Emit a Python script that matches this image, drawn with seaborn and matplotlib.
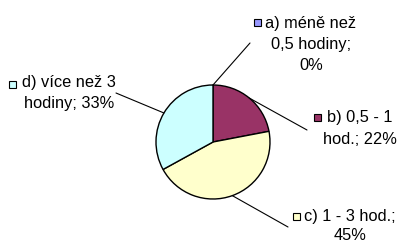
import matplotlib
matplotlib.use("Agg")
import matplotlib.pyplot as plt
from matplotlib.patches import Rectangle
import numpy as np
import seaborn as sns

# data
categories = ["a) méně než 0,5 hodiny", "b) 0,5 - 1 hod.", "c) 1 - 3 hod.", "d) více než 3 hodiny"]
percent = [0, 22, 45, 33]
label_lines = [
    ["a) méně než", "0,5 hodiny;", "0%"],
    ["b) 0,5 - 1", "hod.; 22%"],
    ["c) 1 - 3 hod.;", "45%"],
    ["d) více než 3", "hodiny; 33%"],
]
colors = ["#9999FF", "#993366", "#FFFFCC", "#CCFFFF"]

sns.set_style("white")
plt.rcParams['font.family'] = ['Liberation Sans', 'DejaVu Sans']

W, H = 401, 244
fig = plt.figure(figsize=(W / 100, H / 100), dpi=100)
fig.patch.set_facecolor("white")

# pie centre (213, 142) px from top-left, radius 57 px
cx, cy, r = 213, 142, 57
ax = fig.add_axes([(cx - r) / W, (H - cy - r) / H, 2 * r / W, 2 * r / H])
wedges, _ = ax.pie(percent, colors=colors, startangle=90, counterclock=False,
                   wedgeprops=dict(edgecolor="black", linewidth=1))
ax.set_xlim(-1, 1)
ax.set_ylim(-1, 1)
ax.set_aspect("auto")
for w in wedges:
    w.set_clip_on(False)


def fig_frac(x, y):
    return x / W, 1 - y / H


# label layout (px from top-left): text centre x, baselines, marker top-left, leader end
layout = [
    (311, [28, 49, 70], (254, 19), (250, 43)),
    (360, [122, 144], (314, 114), (307, 130)),
    (350, [221, 240], (293, 213), (288, 227)),
    (69, [87, 108], (9, 81), (116, 93)),
]

fs = 11.8
for i, (w, lines) in enumerate(zip(wedges, label_lines)):
    bx, baselines, (mx, my), lend = layout[i]
    mid = np.deg2rad((w.theta1 + w.theta2) / 2)
    ax.annotate("", xy=(np.cos(mid), np.sin(mid)), xycoords="data",
                xytext=fig_frac(*lend), textcoords="figure fraction",
                arrowprops=dict(arrowstyle="-", lw=0.8, color="black",
                                shrinkA=0, shrinkB=0))
    for line, by in zip(lines, baselines):
        fig.text(*fig_frac(bx, by), line, ha="center", va="baseline",
                 fontsize=fs, color="black")
    fig.patches.append(Rectangle(fig_frac(mx, my + 7), 7 / W, 7 / H,
                                 transform=fig.transFigure,
                                 facecolor=colors[i], edgecolor="black",
                                 linewidth=0.8))

fig.savefig("out.png", dpi=100)
